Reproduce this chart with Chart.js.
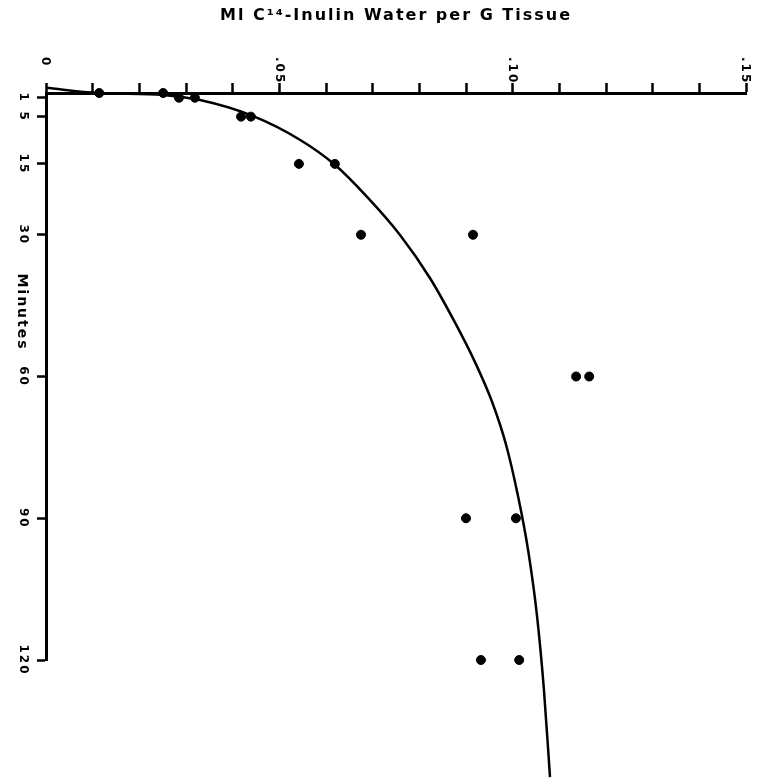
<!DOCTYPE html>
<html>
<head>
<meta charset="utf-8">
<title>Inulin space</title>
<script src="https://cdn.jsdelivr.net/npm/chart.js@4"></script>
<style>
  body { margin: 0; background: #fff; }
  canvas { display: block; }
</style>
</head>
<body>
<canvas id="inulin" width="761" height="782"></canvas>
<script>
// measured points: ml inulin water per g tissue vs minutes
const pointMl = [0.0114, 0.0251, 0.0285, 0.0319, 0.0418, 0.0439, 0.0542, 0.0619,
                 0.0675, 0.0915, 0.1136, 0.1164, 0.0900, 0.1007, 0.0932, 0.1014];
const pointMin = [0, 0, 1, 1, 5, 5, 15, 15, 30, 30, 60, 60, 90, 90, 120, 120];

// hand drawn curve
const curveMl = [0, 0.0111, 0.0251, 0.0330, 0.0444, 0.0544, 0.0619, 0.0688, 0.0759, 0.0823,
                 0.0876, 0.0919, 0.0956, 0.0986, 0.1011, 0.1033, 0.1052, 0.1067, 0.1080];
const curveMin = [-1.1, 0, 0.4, 1.5, 4.9, 9.9, 15.2, 22.0, 30.1, 39.2,
                  48.5, 56.9, 65.4, 74.5, 85.1, 96.7, 110.5, 126.3, 144.8];

// axis ticks
const xMajor = [0, 0.05, 0.10, 0.15];
const xLabels = ['0', '.05', '.10', '.15'];
const yTicks = [1, 5, 15, 30, 60, 90, 120];

const titleText = 'Ml C\u00B9\u2074-Inulin Water per G Tissue';
const yTitle = 'Minutes';

const tickFont = { family: 'DejaVu Sans', weight: 'bold', size: 12 };

// wide lettering like the original labels
const spacingPlugin = {
    id: 'spacing',
    beforeDraw(chart) {
        chart.ctx.letterSpacing = '2px';
    }
};

// draws the y title turned clockwise, like the original
const yTitlePlugin = {
    id: 'yTitle',
    afterDraw(chart) {
        const ctx = chart.ctx;
        ctx.save();
        ctx.translate(22, 312);
        ctx.rotate(Math.PI / 2);
        ctx.font = 'bold 14px "DejaVu Sans"';
        ctx.fillStyle = '#000';
        ctx.textAlign = 'center';
        ctx.textBaseline = 'middle';
        ctx.fillText(yTitle, 0, 0);
        ctx.restore();
    }
};

new Chart('inulin', {
    type: 'scatter',
    data: {
        datasets: [{
            label: 'measured',
            data: pointMl.map((x, i) => ({ x: x, y: pointMin[i] })),
            backgroundColor: '#000',
            borderColor: '#000',
            pointRadius: 4.5,
            clip: false
        }, {
            label: 'curve',
            data: curveMl.map((x, i) => ({ x: x, y: curveMin[i] })),
            showLine: true,
            borderColor: '#000',
            borderWidth: 2.5,
            pointRadius: 0,
            cubicInterpolationMode: 'monotone',
            clip: false
        }]
    },
    options: {
        responsive: false,
        animation: false,
        layout: { padding: { left: 0, right: 15, top: 0, bottom: 122 } },
        plugins: {
            legend: { display: false },
            tooltip: { enabled: false },
            title: {
                display: true,
                fullSize: false,
                text: titleText,
                color: '#000',
                font: { family: 'DejaVu Sans', weight: 'bold', size: 16 },
                padding: { top: 6, bottom: 4 }
            }
        },
        scales: {
            x: {
                type: 'linear',
                position: 'top',
                min: 0,
                max: 0.15,
                afterFit: scale => {
                    scale.height = 63.8;
                    scale.paddingLeft = 0;
                    scale.paddingRight = 0;
                },
                border: { color: '#000', width: 3 },
                grid: { drawOnChartArea: false, color: '#000', tickLength: 10, tickWidth: 2.5 },
                ticks: {
                    stepSize: 0.01,
                    autoSkip: false,
                    minRotation: -90,
                    maxRotation: -90,
                    padding: 26,
                    labelOffset: -15,
                    color: '#000',
                    font: tickFont,
                    callback: value => {
                        const k = xMajor.findIndex(m => Math.abs(m - value) < 1e-6);
                        return k >= 0 ? xLabels[k] : '';
                    }
                }
            },
            y: {
                type: 'linear',
                reverse: true,
                min: 0,
                max: 120,
                afterFit: scale => {
                    scale.width = 46;
                    scale.paddingTop = 0;
                    scale.paddingBottom = 0;
                },
                afterBuildTicks: scale => { scale.ticks = yTicks.map(v => ({ value: v })); },
                border: { color: '#000', width: 3 },
                grid: { drawOnChartArea: false, color: '#000', tickLength: 9, tickWidth: 2.5 },
                ticks: {
                    minRotation: -90,
                    maxRotation: -90,
                    crossAlign: 'center',
                    padding: 1,
                    color: '#000',
                    font: tickFont
                }
            }
        }
    },
    plugins: [spacingPlugin, yTitlePlugin]
});
</script>
</body>
</html>
